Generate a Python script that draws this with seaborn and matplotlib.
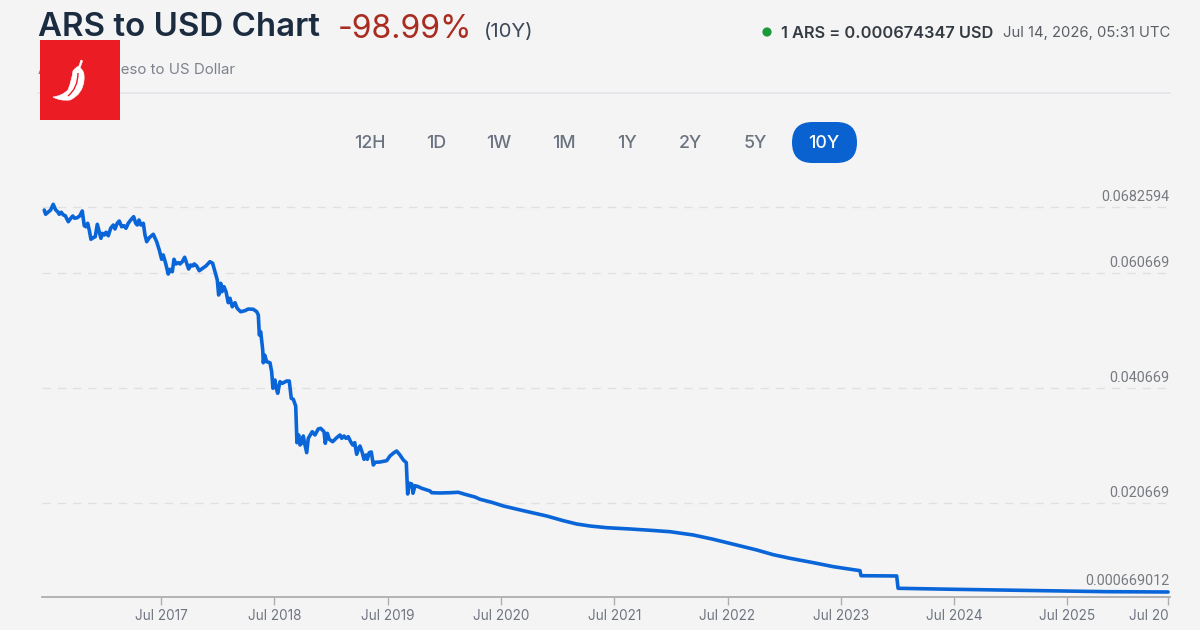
import numpy as np
import pandas as pd
import matplotlib
matplotlib.use("Agg")
import matplotlib.pyplot as plt
from matplotlib.patches import FancyBboxPatch, Rectangle, Circle, PathPatch
from matplotlib.path import Path
import seaborn as sns

# Time in fractional calendar years
years = [
 2016.470,2016.482,2016.503,2016.526,2016.549,2016.571,2016.588,2016.602,2016.620,2016.638,
 2016.655,2016.682,2016.699,2016.721,2016.738,2016.761,2016.785,2016.805,2016.823,2016.838,
 2016.853,2016.867,2016.882,2016.902,2016.920,2016.938,2016.955,2016.970,2016.982,2017.000,
 2017.015,2017.035,2017.056,2017.079,2017.094,2017.114,2017.132,2017.153,2017.173,2017.191,
 2017.211,2017.233,2017.259,2017.277,2017.291,2017.306,2017.323,2017.344,2017.359,2017.374,
 2017.397,2017.432,2017.462,2017.485,2017.506,2017.520,2017.541,2017.564,2017.579,2017.600,
 2017.615,2017.632,2017.653,2017.668,2017.688,2017.709,2017.727,2017.744,2017.762,2017.780,
 2017.794,2017.815,2017.838,2017.868,2017.897,2017.932,2017.956,2017.977,2017.997,2018.009,
 2018.027,2018.038,2018.056,2018.074,2018.094,2018.109,2018.129,2018.153,2018.173,2018.203,
 2018.241,2018.270,2018.315,2018.345,2018.359,2018.368,2018.380,2018.398,2018.403,2018.415,
 2018.433,2018.462,2018.477,2018.488,2018.506,2018.515,2018.530,2018.550,2018.571,2018.609,
 2018.632,2018.650,2018.668,2018.689,2018.700,2018.715,2018.727,2018.742,2018.756,2018.765,
 2018.786,2018.800,2018.835,2018.859,2018.888,2018.909,2018.939,2018.950,2018.968,2018.985,
 2019.015,2019.051,2019.080,2019.095,2019.115,2019.133,2019.153,2019.174,2019.192,2019.210,
 2019.227,2019.245,2019.256,2019.274,2019.292,2019.309,2019.321,2019.338,2019.356,2019.374,
 2019.391,2019.433,2019.492,2019.521,2019.556,2019.580,2019.609,2019.639,2019.665,2019.677,
 2019.691,2019.713,2019.724,2019.742,2019.771,2019.801,2019.830,2019.874,2019.889,2019.962,
 2020.051,2020.124,2020.183,2020.271,2020.315,2020.419,2020.521,2020.698,2020.904,2021.051,
 2021.169,2021.286,2021.434,2021.639,2021.816,2021.992,2022.198,2022.375,2022.581,2022.758,
 2022.904,2023.052,2023.257,2023.434,2023.669,2023.678,2023.993,2024.005,2024.490,2024.905,
 2025.373,2025.849,2026.388]

# ARS/USD rate, in thousandths of a dollar
rate_milli = [
 67.91,67.42,67.65,67.91,68.57,67.91,67.72,67.42,67.65,67.34,
 67.26,66.56,66.87,67.22,66.96,67.02,67.26,67.80,66.10,65.98,
 66.38,65.60,64.53,64.71,64.83,66.26,65.41,64.64,65.22,65.03,
 65.34,64.94,65.80,66.18,65.72,66.38,66.64,65.98,66.10,65.80,
 66.38,66.76,67.14,66.38,66.18,66.76,66.18,66.38,65.03,64.25,
 64.71,65.11,64.25,63.29,62.22,62.72,61.76,60.44,61.06,60.79,
 62.22,61.68,61.83,61.68,61.94,62.45,61.76,61.10,61.56,61.45,
 61.68,61.45,60.90,61.18,61.45,61.94,61.76,60.79,59.40,56.80,
 58.83,57.37,58.24,57.37,55.47,56.23,54.77,55.47,54.49,53.90,
 54.08,54.37,54.32,53.90,53.33,49.86,50.43,47.26,45.05,46.39,
 45.23,45.05,43.49,40.62,42.05,40.79,39.75,41.76,41.48,41.88,
 41.88,38.88,38.70,37.54,31.16,32.50,30.76,31.05,32.32,31.33,
 29.42,31.92,33.07,32.50,33.54,33.66,33.07,31.05,32.79,31.75,
 31.33,32.03,32.50,31.92,32.32,31.92,32.20,31.33,30.76,31.16,
 29.14,30.18,30.58,29.59,28.27,29.02,28.27,29.42,29.54,27.28,
 27.75,27.80,28.03,28.84,29.42,29.71,29.02,28.15,27.68,22.24,
 24.10,23.98,22.36,23.68,23.51,23.23,23.05,22.76,22.46,22.41,
 22.46,22.53,22.18,21.71,21.32,20.79,20.00,18.94,17.75,16.69,
 15.95,15.50,15.12,14.83,14.54,14.22,13.48,12.51,11.23,10.11,
 9.05,8.24,7.26,6.36,5.46,4.33,4.27,1.50,1.28,1.12,
 0.96,0.74,0.67]

x_ticks = [2017.5,2018.5,2019.5,2020.5,2021.5,2022.5,2023.5,2024.5,2025.5,2026.39]
x_labels = ["Jul 2017","Jul 2018","Jul 2019","Jul 2020","Jul 2021","Jul 2022",
            "Jul 2023","Jul 2024","Jul 2025","Jul 20"]
grid_values = [0.0682594,0.060669,0.040669,0.020669]
grid_labels = ["0.0682594","0.060669","0.040669","0.020669"]
last_value = 0.000669012
last_label = "0.000669012"
ranges = ["12H","1D","1W","1M","1Y","2Y","5Y","10Y"]

BG = "#f4f4f4"
sns.set_theme(style="white")
plt.rcParams["font.family"] = ["Inter", "DejaVu Sans"]
W, H = 1200, 630
fig = plt.figure(figsize=(12, 6.3), dpi=100, facecolor=BG)

# The source chart's value axis is not uniform: each labelled level has its own spacing
val_knots = np.array([-0.000455, 0.000669, 0.020669, 0.040669, 0.060669, 0.0682594, 0.07022])
pos_knots = np.array([0, 5, 94, 209, 324.3, 390, 407.0])
ax = fig.add_axes([42/W, (H-597)/H, (1170-42)/W, 407/H], facecolor="none")
ax.set_yscale("function", functions=(lambda v: np.interp(v, val_knots, pos_knots),
                                     lambda p: np.interp(p, pos_knots, val_knots)))

df = pd.DataFrame({"year": years, "rate": np.array(rate_milli) / 1000})
sns.lineplot(data=df, x="year", y="rate", ax=ax, estimator=None, sort=False,
             color="#0a66d8", linewidth=2.6, solid_joinstyle="round", zorder=3)
ax.set_xlim(2016.450, 2026.405)
ax.set_ylim(val_knots[0], val_knots[-1])
ax.set(xlabel="", ylabel="")
for s in ["top", "left", "right"]:
    ax.spines[s].set_visible(False)
ax.spines["bottom"].set_color("#aeaeae")
ax.spines["bottom"].set_linewidth(1.3)
ax.set_yticks([])
ax.set_xticks(x_ticks)
ax.set_xticklabels(x_labels, fontsize=9.8, color="#6f7580")
ax.tick_params(axis="x", length=6, width=1, color="#aeaeae", pad=2.5, bottom=True)
ax.get_xticklabels()[-1].set_horizontalalignment("right")

for v, lab in zip(grid_values, grid_labels):
    ax.axhline(v, color="#e0e0e0", lw=1.0, dashes=(6, 5), zorder=1)
    ax.annotate(lab, (1, v), xycoords=("axes fraction", "data"), xytext=(-0.7, 7.2),
                textcoords="offset points", ha="right", va="center",
                fontsize=10.4, color="#777a80", family=["Roboto", "DejaVu Sans"])
ax.annotate(last_label, (1, last_value), xycoords=("axes fraction", "data"), xytext=(-0.7, 8),
            textcoords="offset points", ha="right", va="center", fontsize=10.4, color="#777a80",
            family=["Roboto", "DejaVu Sans"])

# Page furniture drawn in pixel space
ov = fig.add_axes([0, 0, 1, 1], facecolor="none", zorder=5)
ov.set_xlim(0, W); ov.set_ylim(H, 0); ov.axis("off")

ov.text(38, 28, "ARS to USD Chart", fontsize=23.8, fontweight="semibold", color="#1b2b40", va="center", ha="left")
ov.text(338, 30, "-98.99%", fontsize=23, color="#a92c20", va="center", ha="left")
ov.text(484, 31.5, "(10Y)", fontsize=14.6, color="#3c4858", va="center", ha="left")
ov.text(38, 70, "Argentine Peso to US Dollar", fontsize=10.8, color="#7c828d", va="center", ha="left")
ov.plot([38, 1170], [93, 93], color="#e3e5ea", lw=1.3)

ov.add_patch(Circle((767, 32), 4.6, color="#1c9a3a", lw=0))
ov.text(781, 33, "1 ARS = 0.000674347 USD", fontsize=11.8, fontweight="semibold", color="#343a42", va="center", ha="left")
ov.text(1170, 33, "Jul 14, 2026, 05:31 UTC", fontsize=10.7, color="#5a5f66", va="center", ha="right")

ov.add_patch(FancyBboxPatch((812.5, 142.5), 24, 0.01,
                            boxstyle="round,pad=20.5,rounding_size=20.5",
                            fc="#0a62d0", ec="none", mutation_aspect=1))
for lab, cx in zip(ranges, [370, 436, 499, 564, 627, 690, 755, 824]):
    ov.text(cx, 143.5, lab, fontsize=12.8, color="white" if lab == "10Y" else "#6b7280",
            va="center", ha="center", fontweight="medium")

# Chili logo
ov.add_patch(Rectangle((40, 40), 80, 80, fc="#ec1c24", ec="none", zorder=6))
C3, L = Path.CURVE3, Path.LINETO
verts = [(81, 60), (82.5, 61), (80, 68), (85, 71), (84, 80), (83, 94), (70, 100), (60, 101), (53, 97),
         (62, 96), (68, 90), (72, 80), (73, 71), (76, 67), (79, 66), (81, 60)]
codes = [Path.MOVETO, L, L, C3, C3, C3, C3, C3, C3, C3, C3, C3, C3, C3, C3, L]
ov.add_patch(PathPatch(Path(verts, codes), fc="white", ec="white", lw=0.5, zorder=7))
ov.add_patch(PathPatch(Path([(78, 73), (78, 88), (68, 96)], [Path.MOVETO, C3, C3]),
                       fc="none", ec="#ec1c24", lw=1.0, zorder=8))

fig.savefig("out.png", dpi=100, facecolor=BG)
